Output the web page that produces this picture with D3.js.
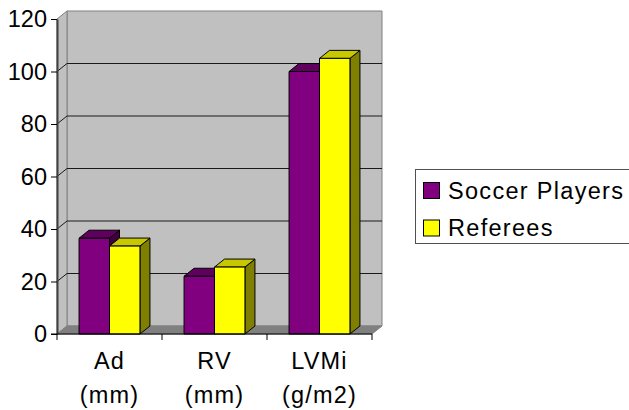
<!DOCTYPE html>
<html>
<head>
<meta charset="utf-8">
<script src="https://cdn.jsdelivr.net/npm/d3@7"></script>
<style>
  html, body { margin: 0; padding: 0; background: #fff; }
  text { font-family: "Liberation Sans", Arial, sans-serif; fill: #000; }
</style>
</head>
<body>
<div id="chart"></div>
<script>
// values
const categories = ["Ad (mm)", "RV (mm)", "LVMi (g/m2)"];
const seriesNames = ["Soccer Players", "Referees"];
const soccerPlayers = [36.5, 22, 100];
const referees = [33.5, 25.5, 105];
const yTicks = [0, 20, 40, 60, 80, 100, 120];

const seriesValues = [soccerPlayers, referees];
const front = ["#800080", "#ffff00"];
const topFace = ["#5f005f", "#c8c800"];
const sideFace = ["#400040", "#808000"];

const width = 629, height = 410;
// 3d offset of the back wall
const dx = 10, dy = -8;

const svg = d3.select("#chart").append("svg")
    .attr("width", width)
    .attr("height", height)
    .style("display", "block");

const xScale = d3.scaleBand().domain(categories).range([57, 372]).paddingInner(0.42).paddingOuter(0.21);
const innerScale = d3.scaleBand().domain(d3.range(seriesNames.length)).range([0, xScale.bandwidth()]);
const yScale = d3.scaleLinear().domain([0, 120]).range([334, 19]);

const x0 = xScale.range()[0], x1 = xScale.range()[1];
const y0 = yScale(0), y1 = yScale(120);

function poly(pts) {
    return "M" + pts.map(p => p.join(",")).join("L") + "Z";
}

// walls and floor
svg.append("path")
    .attr("d", poly([[x0 + dx, y1 + dy], [x1 + dx, y1 + dy], [x1 + dx, y0 + dy], [x0 + dx, y0 + dy]]))
    .attr("fill", "#c0c0c0").attr("stroke", "#808080").attr("stroke-width", 1);
svg.append("path")
    .attr("d", poly([[x0, y1], [x0 + dx, y1 + dy], [x0 + dx, y0 + dy], [x0, y0]]))
    .attr("fill", "#c0c0c0").attr("stroke", "#808080").attr("stroke-width", 1);
svg.append("path")
    .attr("d", poly([[x0, y0], [x0 + dx, y0 + dy], [x1 + dx, y0 + dy], [x1, y0]]))
    .attr("fill", "#808080").attr("stroke", "#808080").attr("stroke-width", 1);

// gridlines, back wall then the slant on the side wall
const gridTicks = yTicks.filter(d => d > 0 && d < 120);
svg.append("g").selectAll("path")
    .data(gridTicks)
    .enter()
    .append("path")
    .attr("d", d => `M${x0},${yScale(d)}L${x0 + dx},${yScale(d) + dy}L${x1 + dx},${yScale(d) + dy}`)
    .attr("fill", "none")
    .attr("stroke", "#1a1a1a")
    .attr("stroke-width", 1);

// bars, one series after the other in each category
categories.forEach((cat, i) => {
    seriesValues.forEach((vals, s) => {
        const left = xScale(cat) + innerScale(s);
        const right = left + innerScale.bandwidth();
        const top = yScale(vals[i]);
        const g = svg.append("g")
            .attr("stroke", "#000")
            .attr("stroke-width", 1)
            .attr("stroke-linejoin", "round");
        g.append("path")
            .attr("d", poly([[right, top], [right + dx, top + dy], [right + dx, y0 + dy], [right, y0]]))
            .attr("fill", sideFace[s]);
        g.append("path")
            .attr("d", poly([[left, top], [left + dx, top + dy], [right + dx, top + dy], [right, top]]))
            .attr("fill", topFace[s]);
        g.append("rect")
            .attr("x", left).attr("y", top)
            .attr("width", right - left).attr("height", y0 - top)
            .attr("fill", front[s]);
    });
});

// y axis
const yAxis = d3.axisLeft(yScale).tickValues(yTicks).tickSize(6).tickSizeOuter(0).tickPadding(4);
const yG = svg.append("g").attr("transform", `translate(${x0},0)`).call(yAxis);
yG.select(".domain").attr("stroke", "#404040").attr("stroke-width", 2);
yG.selectAll("line").attr("stroke", "#000");
yG.selectAll("text").style("font-size", "23.5px").style("font-family", "Liberation Sans").attr("fill", "#000");

// x axis, ticks sit between the categories
const xG = svg.append("g");
xG.append("line")
    .attr("x1", x0 - 6).attr("x2", x1)
    .attr("y1", y0).attr("y2", y0)
    .attr("stroke", "#000");
const step = xScale.step();
xG.selectAll(".xtick")
    .data(d3.range(categories.length + 1))
    .enter()
    .append("line")
    .attr("class", "xtick")
    .attr("x1", d => x0 + d * step).attr("x2", d => x0 + d * step)
    .attr("y1", y0).attr("y2", y0 + 6)
    .attr("stroke", "#000");

// category labels wrap on two lines
categories.forEach(cat => {
    const parts = cat.split(" ");
    const label = svg.append("text")
        .attr("text-anchor", "middle")
        .style("font-size", "23.5px")
        .style("letter-spacing", "1.2px");
    parts.forEach((p, k) => {
        label.append("tspan")
            .attr("x", xScale(cat) + xScale.bandwidth() / 2)
            .attr("y", 369 + k * 34)
            .text(p);
    });
});

// legend, the box runs off the right edge of the picture
const legend = svg.append("g");
legend.append("rect")
    .attr("x", 415.5).attr("y", 169.5)
    .attr("width", 220).attr("height", 74)
    .attr("fill", "#fff").attr("stroke", "#505050");
seriesNames.forEach((name, s) => {
    legend.append("rect")
        .attr("x", 423.5).attr("y", 182.5 + s * 37.5)
        .attr("width", 16).attr("height", 16)
        .attr("fill", front[s]).attr("stroke", "#000");
    legend.append("text")
        .attr("x", 448).attr("y", 199 + s * 37)
        .style("font-size", "23.5px")
        .style("letter-spacing", "1.3px")
        .text(name);
});
</script>
</body>
</html>
